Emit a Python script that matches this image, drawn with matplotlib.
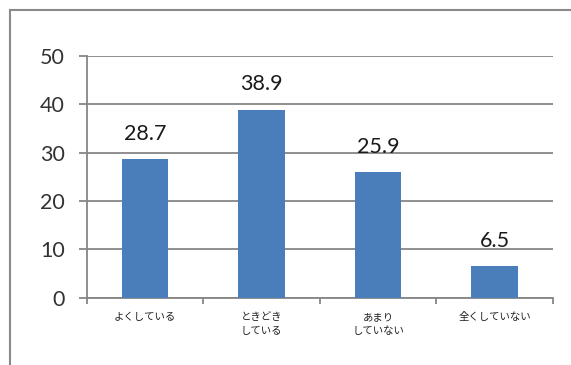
import matplotlib
matplotlib.use("Agg")
import matplotlib.pyplot as plt
from matplotlib.lines import Line2D
import numpy as np

# survey answers (%)
categories = ["よくしている", "ときどき\nしている", "あまり\nしていない", "全くしていない"]
values = [28.7, 38.9, 25.9, 6.5]
yticks = [0, 10, 20, 30, 40, 50]

bar_color = "#4a7ebb"
grid_color = "#868686"

fig = plt.figure(figsize=(5.71, 3.65), dpi=100)
ax = fig.add_axes([0.152, 0.184, 0.816, 0.663])

x = np.arange(len(categories))
ax.bar(x, values, width=0.4, color=bar_color, zorder=3)

for xi, v in zip(x, values):
    ax.annotate(f"{v:.1f}", (xi, v), xytext=(0, 11), textcoords="offset points",
                ha="center", va="bottom", fontsize=15.5, family="Lato", color="#1a1a1a")

ax.set_xlim(-0.5, len(categories) - 0.5)
ax.set_ylim(0, 50)
ax.set_yticks(yticks)
ax.set_yticklabels([str(t) for t in yticks], fontsize=15.5, family="Lato", color="#333333")
ax.yaxis.grid(True, color=grid_color, linewidth=1.3, zorder=0)
ax.tick_params(axis="y", length=6, width=1.3, color=grid_color, pad=10)

# category labels centred under bars, ticks on the boundaries
ax.set_xticks(x)
ax.set_xticklabels(categories, fontsize=7.5, family=["Noto Sans CJK JP", "DejaVu Sans"],
                   color="#222222", linespacing=1.5)
ax.tick_params(axis="x", length=0, pad=10)
ax.set_xticks(np.arange(len(categories) + 1) - 0.5, minor=True)
ax.tick_params(axis="x", which="minor", length=4, width=1.3, color=grid_color)

for side in ["top", "right"]:
    ax.spines[side].set_visible(False)
for side in ["left", "bottom"]:
    ax.spines[side].set_color(grid_color)
    ax.spines[side].set_linewidth(1.3)

# outer frame (top and left edges)
fig.add_artist(Line2D([10 / 571, 1.0], [1 - 10 / 365, 1 - 10 / 365],
                      color="#8a8a8a", linewidth=1.5, transform=fig.transFigure))
fig.add_artist(Line2D([10 / 571, 10 / 571], [0.0, 1 - 10 / 365],
                      color="#8a8a8a", linewidth=1.5, transform=fig.transFigure))

fig.savefig("out.png", dpi=100)
